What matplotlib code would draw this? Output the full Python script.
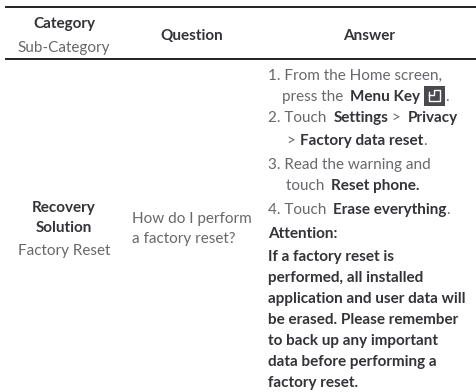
import matplotlib
matplotlib.use("Agg")
import matplotlib.pyplot as plt
from matplotlib.patches import Rectangle

# (text, bold) runs for every line of the table
header_category = [[("Category", True)], [("Sub-Category", False)]]
header_question = [[("Question", True)]]
header_answer = [[("Answer", True)]]
cell_category = [[("Recovery", True)], [("Solution", True)], [("Factory Reset", False)]]
cell_question = [[("How do I perform", False)], [("a factory reset?", False)]]
cell_answer = [
    [("1. From the Home screen,", False)],
    [("press the ", False), ("Menu Key", True)],
    [("2. Touch ", False), ("Settings", True), (" > ", False), ("Privacy", True)],
    [("> ", False), ("Factory data reset", True), (".", False)],
    [("3. Read the warning and", False)],
    [("touch ", False), ("Reset phone.", True)],
    [("4. Touch ", False), ("Erase everything", True), (".", False)],
    [("Attention:", True)],
    [("If a factory reset is", True)],
    [("performed, all installed", True)],
    [("application and user data will", True)],
    [("be erased. Please remember", True)],
    [("to back up any important", True)],
    [("data before performing a", True)],
    [("factory reset.", True)],
]
answer_y = [75, 96, 117, 140, 164, 185, 209, 233, 256, 277, 298, 319, 340, 361, 382]
answer_x = [268, 282, 268, 287, 268, 286, 268, 268, 268, 268, 268, 268, 268, 268, 268]

LIGHT = "#68686c"
DARK = "#333338"
SIZE_LIGHT = 11.0
SIZE_BOLD = 10.95

fig = plt.figure(figsize=(4.77, 3.92), dpi=100)
ax = fig.add_axes([0, 0, 1, 1])
ax.set_xlim(0, 477)
ax.set_ylim(392, 0)
ax.axis("off")


def put(x, y, s, bold, ha="left"):
    return ax.text(x, y + 1, s, family="Lato", fontsize=SIZE_BOLD if bold else SIZE_LIGHT,
                   ha=ha, va="center", color=DARK if bold else LIGHT,
                   fontweight="bold" if bold else "normal")


def line(x, y, runs):
    # one run after the other, measured with the renderer
    r = fig.canvas.get_renderer()
    for s, bold in runs:
        t = put(x, y, s.replace(" ", "\u00a0"), bold)
        x += t.get_window_extent(r).width
        # the spaces are wider in the reference
        if s.endswith(" ") and len(s) > 2:
            x += 3
    return x


def centred(x, ys, rows):
    for y, row in zip(ys, rows):
        s, bold = row[0]
        put(x, y, s, bold, ha="center")


for y in (7, 59):
    ax.plot([5, 477], [y, y], color="#222226", lw=1.4, solid_capstyle="butt")

centred(64, [23, 47], header_category)
centred(192, [35], header_question)
centred(369, [35], header_answer)
centred(64, [207, 227, 250], cell_category)
for y, row in zip([218, 238], cell_question):
    line(132, y, row)

for x, y, row in zip(answer_x, answer_y, cell_answer):
    end = line(x, y, row)
    if row[-1][0] == "Menu Key":
        # key icon with its full stop
        ax.add_patch(Rectangle((424, 86), 21, 20, color="#4a4a4e", lw=0))
        ax.plot([429, 429, 440, 440, 434, 434, 429], [92, 101, 101, 90, 90, 95, 95],
                color="white", lw=1)
        put(445, y, ".", False)

fig.savefig("out.png", dpi=100)
